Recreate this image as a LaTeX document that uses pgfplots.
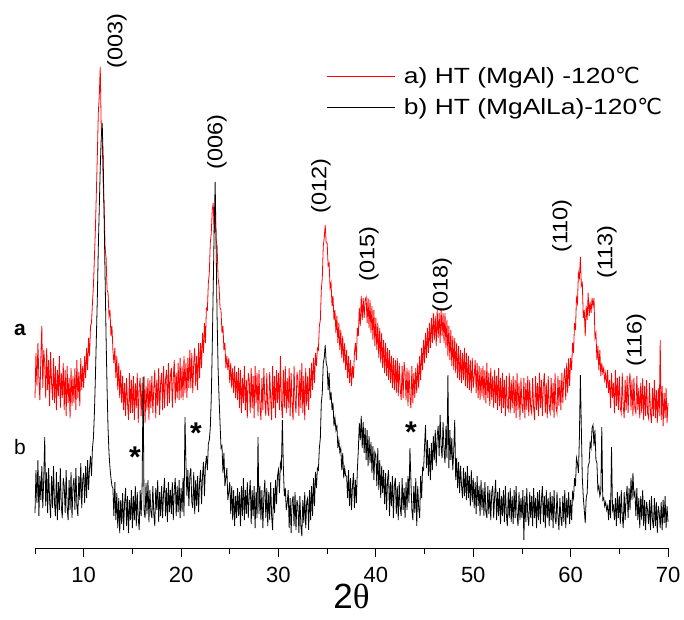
\documentclass[border=0pt]{standalone}
\usepackage{fontspec}
\setmainfont{Liberation Sans}
\newfontfamily\serif{Liberation Serif}
\newfontfamily\dejavu{DejaVu Sans}
\newfontfamily\legfont[FakeStretch=1.2]{Liberation Sans}
\newfontfamily\peakfont[FakeStretch=1.12]{Liberation Sans}
\usepackage{pgfplots}
\pgfplotsset{compat=1.18}

\begin{document}
\begin{tikzpicture}
\begin{axis}[
    name=ax,
    scale only axis,
    width=633pt, height=548pt,
    xmin=5, xmax=70, ymin=0, ymax=548,
    axis y line=none,
    axis x line=bottom,
    axis line style={-, line width=0.8pt},
    xtick={10,20,...,70},
    minor xtick={5,15,...,65},
    tick align=outside,
    major tick length=9pt, minor tick length=6pt,
    tick style={line width=0.8pt, black},
    /pgf/number format/assume math mode=true,
    tick label style={font=\fontsize{22}{26}\selectfont},
    xticklabel style={yshift=-7pt},
    xlabel={2{\serif θ}},
    xlabel style={font=\fontsize{35}{38}\selectfont, yshift=6pt},
    clip=false,
    legend style={draw=none, fill=none, at={(0.4597,0.833)}, anchor=west,
        inner sep=0pt, font=\legfont\fontsize{22}{26}\selectfont,
        row sep=9pt, column sep=7pt},
    legend cell align=left,
    legend image code/.code={\draw[#1] (0pt,0pt) -- (68pt,0pt);},
]
\addplot[red, line width=0.8pt] coordinates {
(5.0,150)(5.1,195)(5.2,162)(5.3,205)(5.4,170)(5.5,148)(5.6,190)(5.7,222)(5.8,160)(5.9,198)
(6.0,185)(6.1,150)(6.2,200)(6.3,158)(6.4,188)(6.5,142)(6.6,196)(6.7,165)(6.8,148)(6.9,190)
(7.0,145)(7.1,182)(7.2,138)(7.3,178)(7.4,152)(7.5,192)(7.6,140)(7.7,175)(7.8,150)(7.9,185)
(8.0,138)(8.1,178)(8.2,132)(8.3,182)(8.4,145)(8.5,170)(8.6,130)(8.7,180)(8.8,142)(8.9,172)
(9.0,145)(9.1,180)(9.2,138)(9.3,188)(9.4,150)(9.5,176)(9.6,142)(9.7,190)(9.8,158)(9.9,182)
(10.0,160)(10.1,192)(10.2,170)(10.3,200)(10.4,178)(10.5,210)(10.6,192)(10.7,222)(10.8,225)(10.9,245)
(11.0,262)(11.1,290)(11.2,318)(11.3,355)(11.4,392)(11.5,435)(11.6,452)(11.7,481)(11.8,420)(11.9,410)
(12.0,365)(12.1,340)(12.2,300)(12.3,290)(12.4,258)(12.5,255)(12.6,232)(12.7,238)(12.8,212)(12.9,222)
(13.0,198)(13.1,185)(13.2,200)(13.3,170)(13.4,192)(13.5,158)(13.6,185)(13.7,150)(13.8,178)(13.9,145)
(14.0,172)(14.1,138)(14.2,165)(14.3,132)(14.4,170)(14.5,145)(14.6,128)(14.7,175)(14.8,135)(14.9,168)
(15.0,135)(15.1,172)(15.2,128)(15.3,165)(15.4,140)(15.5,175)(15.6,125)(15.7,160)(15.8,170)(15.9,132)
(16.0,165)(16.1,130)(16.2,172)(16.3,125)(16.4,162)(16.5,138)(16.6,170)(16.7,128)(16.8,168)(16.9,140)
(17.0,172)(17.1,135)(17.2,160)(17.3,178)(17.4,130)(17.5,168)(17.6,142)(17.7,180)(17.8,133)(17.9,165)
(18.0,175)(18.1,138)(18.2,182)(18.3,140)(18.4,168)(18.5,178)(18.6,142)(18.7,185)(18.8,145)(18.9,172)
(19.0,180)(19.1,140)(19.2,170)(19.3,188)(19.4,145)(19.5,175)(19.6,150)(19.7,185)(19.8,148)(19.9,190)
(20.0,150)(20.1,182)(20.2,148)(20.3,192)(20.4,155)(20.5,185)(20.6,150)(20.7,190)(20.8,160)(20.9,198)
(21.0,160)(21.1,195)(21.2,155)(21.3,185)(21.4,200)(21.5,162)(21.6,192)(21.7,158)(21.8,205)(21.9,170)
(22.0,205)(22.1,180)(22.2,215)(22.3,195)(22.4,225)(22.5,205)(22.6,240)(22.7,238)(22.8,265)(22.9,275)
(23.0,305)(23.1,315)(23.2,338)(23.3,345)(23.4,315)(23.5,340)(23.6,308)(23.7,302)(23.8,270)(23.9,262)
(24.0,240)(24.1,238)(24.2,215)(24.3,222)(24.4,198)(24.5,205)(24.6,180)(24.7,192)(24.8,178)(24.9,190)
(25.0,165)(25.1,185)(25.2,160)(25.3,180)(25.4,155)(25.5,182)(25.6,150)(25.7,176)(25.8,148)(25.9,180)
(26.0,140)(26.1,178)(26.2,135)(26.3,170)(26.4,145)(26.5,182)(26.6,138)(26.7,168)(26.8,130)(26.9,175)
(27.0,168)(27.1,135)(27.2,180)(27.3,140)(27.4,172)(27.5,130)(27.6,182)(27.7,145)(27.8,175)(27.9,132)
(28.0,178)(28.1,142)(28.2,128)(28.3,170)(28.4,138)(28.5,180)(28.6,148)(28.7,132)(28.8,175)(28.9,140)
(29.0,132)(29.1,176)(29.2,150)(29.3,128)(29.4,182)(29.5,140)(29.6,172)(29.7,130)(29.8,178)(29.9,145)
(30.0,175)(30.1,138)(30.2,192)(30.3,145)(30.4,130)(30.5,178)(30.6,140)(30.7,182)(30.8,135)(30.9,170)
(31.0,140)(31.1,180)(31.2,132)(31.3,175)(31.4,145)(31.5,128)(31.6,182)(31.7,148)(31.8,135)(31.9,176)
(32.0,168)(32.1,132)(32.2,178)(32.3,140)(32.4,185)(32.5,135)(32.6,172)(32.7,128)(32.8,180)(32.9,142)
(33.0,172)(33.1,138)(33.2,180)(33.3,150)(33.4,185)(33.5,158)(33.6,190)(33.7,165)(33.8,195)(33.9,182)
(34.0,200)(34.1,198)(34.2,222)(34.3,228)(34.4,258)(34.5,270)(34.6,302)(34.7,310)(34.8,323)(34.9,305)
(35.0,305)(35.1,282)(35.2,285)(35.3,260)(35.4,265)(35.5,242)(35.6,252)(35.7,228)(35.8,238)(35.9,215)
(36.0,232)(36.1,205)(36.2,225)(36.3,198)(36.4,218)(36.5,190)(36.6,212)(36.7,185)(36.8,205)(36.9,178)
(37.0,198)(37.1,170)(37.2,192)(37.3,165)(37.4,188)(37.5,162)(37.6,182)(37.7,170)(37.8,195)(37.9,205)
(38.0,188)(38.1,220)(38.2,212)(38.3,240)(38.4,222)(38.5,252)(38.6,228)(38.7,250)(38.8,230)(38.9,248)
(39.0,251)(39.1,225)(39.2,250)(39.3,220)(39.4,248)(39.5,215)(39.6,242)(39.7,208)(39.8,238)(39.9,202)
(40.0,230)(40.1,198)(40.2,225)(40.3,190)(40.4,220)(40.5,185)(40.6,215)(40.7,180)(40.8,208)(40.9,175)
(41.0,205)(41.1,172)(41.2,200)(41.3,168)(41.4,198)(41.5,165)(41.6,192)(41.7,160)(41.8,190)(41.9,158)
(42.0,188)(42.1,155)(42.2,190)(42.3,152)(42.4,185)(42.5,160)(42.6,148)(42.7,182)(42.8,150)(42.9,186)
(43.0,175)(43.1,148)(43.2,180)(43.3,142)(43.4,178)(43.5,152)(43.6,140)(43.7,182)(43.8,145)(43.9,175)
(44.0,150)(44.1,180)(44.2,155)(44.3,185)(44.4,160)(44.5,192)(44.6,168)(44.7,200)(44.8,178)(44.9,208)
(45.0,185)(45.1,215)(45.2,190)(45.3,220)(45.4,195)(45.5,225)(45.6,200)(45.7,230)(45.8,205)(45.9,235)
(46.0,208)(46.1,232)(46.2,202)(46.3,238)(46.4,210)(46.5,235)(46.6,205)(46.7,240)(46.8,212)(46.9,235)
(47.0,205)(47.1,235)(47.2,200)(47.3,228)(47.4,192)(47.5,222)(47.6,188)(47.7,218)(47.8,182)(47.9,212)
(48.0,178)(48.1,210)(48.2,175)(48.3,205)(48.4,170)(48.5,202)(48.6,168)(48.7,198)(48.8,165)(48.9,195)
(49.0,168)(49.1,200)(49.2,162)(49.3,195)(49.4,160)(49.5,192)(49.6,158)(49.7,188)(49.8,155)(49.9,190)
(50.0,160)(50.1,172)(50.2,188)(50.3,155)(50.4,185)(50.5,150)(50.6,182)(50.7,148)(50.8,180)(50.9,152)
(51.0,182)(51.1,148)(51.2,178)(51.3,145)(51.4,185)(51.5,150)(51.6,175)(51.7,142)(51.8,180)(51.9,148)
(52.0,172)(52.1,140)(52.2,178)(52.3,145)(52.4,172)(52.5,138)(52.6,180)(52.7,142)(52.8,170)(52.9,135)
(53.0,175)(53.1,140)(53.2,168)(53.3,132)(53.4,172)(53.5,142)(53.6,138)(53.7,175)(53.8,135)(53.9,168)
(54.0,140)(54.1,172)(54.2,135)(54.3,168)(54.4,130)(54.5,175)(54.6,138)(54.7,165)(54.8,128)(54.9,170)
(55.0,142)(55.1,135)(55.2,170)(55.3,130)(55.4,165)(55.5,138)(55.6,172)(55.7,132)(55.8,168)(55.9,140)
(56.0,135)(56.1,170)(56.2,140)(56.3,128)(56.4,172)(56.5,138)(56.6,165)(56.7,132)(56.8,175)(56.9,140)
(57.0,168)(57.1,132)(57.2,162)(57.3,175)(57.4,135)(57.5,165)(57.6,130)(57.7,172)(57.8,140)(57.9,135)
(58.0,170)(58.1,138)(58.2,165)(58.3,130)(58.4,175)(58.5,140)(58.6,135)(58.7,172)(58.8,142)(58.9,168)
(59.0,138)(59.1,175)(59.2,145)(59.3,170)(59.4,180)(59.5,148)(59.6,185)(59.7,155)(59.8,190)(59.9,162)
(60.0,190)(60.1,178)(60.2,205)(60.3,195)(60.4,225)(60.5,218)(60.6,250)(60.7,245)(60.8,275)(60.9,270)
(61.0,291)(61.1,262)(61.2,265)(61.3,230)(61.4,238)(61.5,212)(61.6,242)(61.7,228)(61.8,255)(61.9,232)
(62.0,246)(62.1,235)(62.2,250)(62.3,242)(62.4,250)(62.5,210)(62.6,215)(62.7,188)(62.8,202)(62.9,178)
(63.0,198)(63.1,172)(63.2,185)(63.3,175)(63.4,180)(63.5,168)(63.6,175)(63.7,160)(63.8,178)(63.9,155)
(64.0,168)(64.1,140)(64.2,175)(64.3,150)(64.4,165)(64.5,135)(64.6,178)(64.7,142)(64.8,170)(64.9,138)
(65.0,172)(65.1,140)(65.2,135)(65.3,175)(65.4,142)(65.5,130)(65.6,168)(65.7,138)(65.8,172)(65.9,135)
(66.0,165)(66.1,175)(66.2,138)(66.3,168)(66.4,132)(66.5,170)(66.6,140)(66.7,135)(66.8,172)(66.9,138)
(67.0,160)(67.1,130)(67.2,165)(67.3,135)(67.4,170)(67.5,128)(67.6,162)(67.7,132)(67.8,168)(67.9,135)
(68.0,130)(68.1,165)(68.2,135)(68.3,125)(68.4,160)(68.5,132)(68.6,168)(68.7,130)(68.8,158)(68.9,125)
(69.0,160)(69.1,132)(69.2,208)(69.3,128)(69.4,162)(69.5,122)(69.6,155)(69.7,130)(69.8,160)(69.9,125)
(70.0,145)
};
\addlegendentry{a) HT (MgAl) -120{\dejavu ℃}}
\addplot[black, line width=0.8pt] coordinates {
(5.0,35)(5.1,78)(5.2,45)(5.3,88)(5.4,32)(5.5,72)(5.6,48)(5.7,82)(5.8,40)(5.9,70)
(6.0,111)(6.1,42)(6.2,76)(6.3,35)(6.4,80)(6.5,48)(6.6,30)(6.7,72)(6.8,40)(6.9,82)
(7.0,45)(7.1,32)(7.2,76)(7.3,28)(7.4,66)(7.5,38)(7.6,80)(7.7,42)(7.8,30)(7.9,70)
(8.0,62)(8.1,35)(8.2,78)(8.3,40)(8.4,28)(8.5,68)(8.6,38)(8.7,76)(8.8,30)(8.9,62)
(9.0,70)(9.1,38)(9.2,80)(9.3,42)(9.4,32)(9.5,72)(9.6,48)(9.7,85)(9.8,40)(9.9,68)
(10.0,75)(10.1,45)(10.2,82)(10.3,50)(10.4,88)(10.5,58)(10.6,80)(10.7,92)(10.8,72)(10.9,100)
(11.0,110)(11.1,135)(11.2,170)(11.3,210)(11.4,250)(11.5,300)(11.6,340)(11.7,380)(11.8,410)(11.9,425)
(12.0,390)(12.1,330)(12.2,270)(12.3,210)(12.4,160)(12.5,120)(12.6,95)(12.7,80)(12.8,70)(12.9,62)
(13.0,60)(13.1,32)(13.2,66)(13.3,28)(13.4,55)(13.5,20)(13.6,50)(13.7,15)(13.8,48)(13.9,24)
(14.0,55)(14.1,18)(14.2,45)(14.3,60)(14.4,22)(14.5,52)(14.6,15)(14.7,48)(14.8,28)(14.9,58)
(15.0,20)(15.1,52)(15.2,28)(15.3,62)(15.4,22)(15.5,56)(15.6,30)(15.7,18)(15.8,58)(15.9,32)
(16.0,62)(16.1,171)(16.2,38)(16.3,30)(16.4,65)(16.5,34)(16.6,68)(16.7,26)(16.8,58)(16.9,36)
(17.0,30)(17.1,62)(17.2,34)(17.3,22)(17.4,60)(17.5,38)(17.6,68)(17.7,26)(17.8,56)(17.9,32)
(18.0,62)(18.1,30)(18.2,55)(18.3,70)(18.4,32)(18.5,60)(18.6,26)(18.7,66)(18.8,36)(18.9,58)
(19.0,34)(19.1,66)(19.2,28)(19.3,58)(19.4,70)(19.5,32)(19.6,62)(19.7,36)(19.8,68)(19.9,30)
(20.0,60)(20.1,36)(20.2,70)(20.3,32)(20.4,131)(20.5,85)(20.6,52)(20.7,78)(20.8,42)(20.9,72)
(21.0,80)(21.1,46)(21.2,40)(21.3,76)(21.4,34)(21.5,68)(21.6,42)(21.7,72)(21.8,36)(21.9,66)
(22.0,78)(22.1,44)(22.2,72)(22.3,86)(22.4,52)(22.5,82)(22.6,92)(22.7,78)(22.8,104)(22.9,108)
(23.0,120)(23.1,150)(23.2,200)(23.3,260)(23.4,320)(23.5,366)(23.6,300)(23.7,230)(23.8,180)(23.9,150)
(24.0,125)(24.1,100)(24.2,102)(24.3,75)(24.4,95)(24.5,62)(24.6,70)(24.7,80)(24.8,48)(24.9,56)
(25.0,66)(25.1,34)(25.2,62)(25.3,28)(25.4,58)(25.5,22)(25.6,52)(25.7,30)(25.8,60)(25.9,32)
(26.0,56)(26.1,22)(26.2,62)(26.3,32)(26.4,70)(26.5,28)(26.6,58)(26.7,34)(26.8,66)(26.9,30)
(27.0,52)(27.1,68)(27.2,24)(27.3,58)(27.4,32)(27.5,62)(27.6,20)(27.7,56)(27.8,30)(27.9,111)
(28.0,34)(28.1,62)(28.2,28)(28.3,58)(28.4,20)(28.5,52)(28.6,68)(28.7,30)(28.8,60)(28.9,22)
(29.0,56)(29.1,28)(29.2,66)(29.3,32)(29.4,18)(29.5,60)(29.6,35)(29.7,68)(29.8,44)(29.9,72)
(30.0,78)(30.1,55)(30.2,85)(30.3,80)(30.4,128)(30.5,82)(30.6,52)(30.7,60)(30.8,38)(30.9,45)
(31.0,58)(31.1,20)(31.2,50)(31.3,15)(31.4,46)(31.5,52)(31.6,22)(31.7,56)(31.8,18)(31.9,48)
(32.0,42)(32.1,15)(32.2,52)(32.3,22)(32.4,12)(32.5,48)(32.6,25)(32.7,56)(32.8,20)(32.9,46)
(33.0,50)(33.1,18)(33.2,58)(33.3,28)(33.4,62)(33.5,32)(33.6,70)(33.7,42)(33.8,76)(33.9,60)
(34.0,80)(34.1,78)(34.2,100)(34.3,110)(34.4,145)(34.5,155)(34.6,185)(34.7,190)(34.8,203)(34.9,185)
(35.0,181)(35.1,158)(35.2,175)(35.3,148)(35.4,156)(35.5,138)(35.6,145)(35.7,122)(35.8,130)(35.9,118)
(36.0,122)(36.1,100)(36.2,108)(36.3,96)(36.4,100)(36.5,78)(36.6,95)(36.7,70)(36.8,80)(36.9,72)
(37.0,72)(37.1,50)(37.2,78)(37.3,42)(37.4,70)(37.5,38)(37.6,62)(37.7,75)(37.8,40)(37.9,68)
(38.0,45)(38.1,78)(38.2,98)(38.3,125)(38.4,108)(38.5,132)(38.6,100)(38.7,126)(38.8,95)(38.9,120)
(39.0,88)(39.1,118)(39.2,82)(39.3,112)(39.4,85)(39.5,106)(39.6,75)(39.7,102)(39.8,68)(39.9,96)
(40.0,92)(40.1,62)(40.2,100)(40.3,58)(40.4,88)(40.5,50)(40.6,82)(40.7,55)(40.8,78)(40.9,44)
(41.0,75)(41.1,38)(41.2,68)(41.3,78)(41.4,32)(41.5,66)(41.6,42)(41.7,72)(41.8,30)(41.9,62)
(42.0,70)(42.1,34)(42.2,62)(42.3,28)(42.4,66)(42.5,40)(42.6,32)(42.7,70)(42.8,38)(42.9,60)
(43.0,30)(43.1,66)(43.2,38)(43.3,72)(43.4,45)(43.5,100)(43.6,68)(43.7,38)(43.8,28)(43.9,62)
(44.0,35)(44.1,70)(44.2,22)(44.3,62)(44.4,40)(44.5,30)(44.6,72)(44.7,50)(44.8,80)(44.9,78)
(45.0,102)(45.1,123)(45.2,80)(45.3,108)(45.4,72)(45.5,100)(45.6,68)(45.7,105)(45.8,78)(45.9,112)
(46.0,88)(46.1,118)(46.2,82)(46.3,112)(46.4,122)(46.5,92)(46.6,133)(46.7,102)(46.8,90)(46.9,126)
(47.0,98)(47.1,85)(47.2,122)(47.3,90)(47.4,173)(47.5,80)(47.6,118)(47.7,88)(47.8,110)(47.9,78)
(48.0,98)(48.1,128)(48.2,68)(48.3,90)(48.4,60)(48.5,86)(48.6,55)(48.7,82)(48.8,62)(48.9,50)
(49.0,80)(49.1,52)(49.2,76)(49.3,48)(49.4,82)(49.5,50)(49.6,72)(49.7,42)(49.8,78)(49.9,46)
(50.0,70)(50.1,40)(50.2,66)(50.3,34)(50.4,72)(50.5,42)(50.6,62)(50.7,32)(50.8,68)(50.9,38)
(51.0,60)(51.1,32)(51.2,66)(51.3,36)(51.4,30)(51.5,62)(51.6,34)(51.7,58)(51.8,28)(51.9,56)
(52.0,62)(52.1,30)(52.2,52)(52.3,68)(52.4,28)(52.5,56)(52.6,32)(52.7,60)(52.8,24)(52.9,52)
(53.0,32)(53.1,58)(53.2,26)(53.3,62)(53.4,34)(53.5,22)(53.6,56)(53.7,30)(53.8,60)(53.9,26)
(54.0,52)(54.1,24)(54.2,58)(54.3,30)(54.4,62)(54.5,34)(54.6,22)(54.7,56)(54.8,28)(54.9,50)
(55.0,30)(55.1,58)(55.2,8)(55.3,52)(55.4,26)(55.5,60)(55.6,32)(55.7,22)(55.8,56)(55.9,30)
(56.0,52)(56.1,22)(56.2,60)(56.3,30)(56.4,50)(56.5,20)(56.6,56)(56.7,28)(56.8,58)(56.9,24)
(57.0,48)(57.1,62)(57.2,26)(57.3,52)(57.4,20)(57.5,58)(57.6,30)(57.7,50)(57.8,22)(57.9,56)
(58.0,28)(58.1,52)(58.2,20)(58.3,58)(58.4,30)(58.5,24)(58.6,56)(58.7,32)(58.8,18)(58.9,50)
(59.0,30)(59.1,22)(59.2,52)(59.3,26)(59.4,58)(59.5,20)(59.6,50)(59.7,30)(59.8,56)(59.9,24)
(60.0,48)(60.1,28)(60.2,55)(60.3,50)(60.4,70)(60.5,62)(60.6,90)(60.7,85)(60.8,75)(60.9,110)
(61.0,173)(61.1,120)(61.2,70)(61.3,51)(61.4,38)(61.5,25)(61.6,50)(61.7,55)(61.8,82)(61.9,85)
(62.0,105)(62.1,100)(62.2,120)(62.3,123)(62.4,102)(62.5,118)(62.6,88)(62.7,85)(62.8,58)(62.9,62)
(63.0,52)(63.1,56)(63.2,121)(63.3,48)(63.4,50)(63.5,42)(63.6,46)(63.7,38)(63.8,42)(63.9,28)
(64.0,48)(64.1,30)(64.2,101)(64.3,38)(64.4,42)(64.5,28)(64.6,50)(64.7,22)(64.8,56)(64.9,30)
(65.0,52)(65.1,24)(65.2,58)(65.3,32)(65.4,20)(65.5,56)(65.6,28)(65.7,50)(65.8,62)(65.9,30)
(66.0,60)(66.1,38)(66.2,70)(66.3,48)(66.4,75)(66.5,52)(66.6,56)(66.7,32)(66.8,60)(66.9,28)
(67.0,50)(67.1,20)(67.2,52)(67.3,28)(67.4,58)(67.5,22)(67.6,48)(67.7,18)(67.8,46)(67.9,38)
(68.0,24)(68.1,48)(68.2,18)(68.3,52)(68.4,28)(68.5,20)(68.6,50)(68.7,22)(68.8,46)(68.9,15)
(69.0,42)(69.1,35)(69.2,20)(69.3,46)(69.4,18)(69.5,48)(69.6,25)(69.7,52)(69.8,20)(69.9,42)
(70.0,26)
};
\addlegendentry{b) HT (MgAlLa)-120{\dejavu ℃}}

% peak labels
\begin{scope}[every node/.style={rotate=90, font=\peakfont\fontsize{21}{25}\selectfont, inner sep=0pt}]
\node at (axis cs:13.42,507) {(003)};
\node at (axis cs:23.69,406) {(006)};
\node at (axis cs:34.37,362) {(012)};
\node at (axis cs:39.30,294) {(015)};
\node at (axis cs:46.80,263) {(018)};
\node at (axis cs:59.12,322) {(110)};
\node at (axis cs:63.74,296) {(113)};
\node at (axis cs:66.72,208) {(116)};
\end{scope}
% impurity marks
\begin{scope}[every node/.style={font=\fontsize{30}{34}\selectfont\bfseries, inner sep=0pt, anchor=north}]
\node at (axis cs:15.27,101) {*};
\node at (axis cs:21.53,125) {*};
\node at (axis cs:43.61,126) {*};
\end{scope}
\node[font=\fontsize{21}{25}\selectfont\bfseries, inner sep=0pt] at (axis cs:3.46,218) {a};
\node[font=\fontsize{21}{25}\selectfont, inner sep=0pt] at (axis cs:3.46,101) {b};
\end{axis}
\pgfresetboundingbox
\path ([xshift=-35pt,yshift=-71pt]ax.south west) rectangle ([xshift=16pt]ax.north east);
\end{tikzpicture}
\end{document}
